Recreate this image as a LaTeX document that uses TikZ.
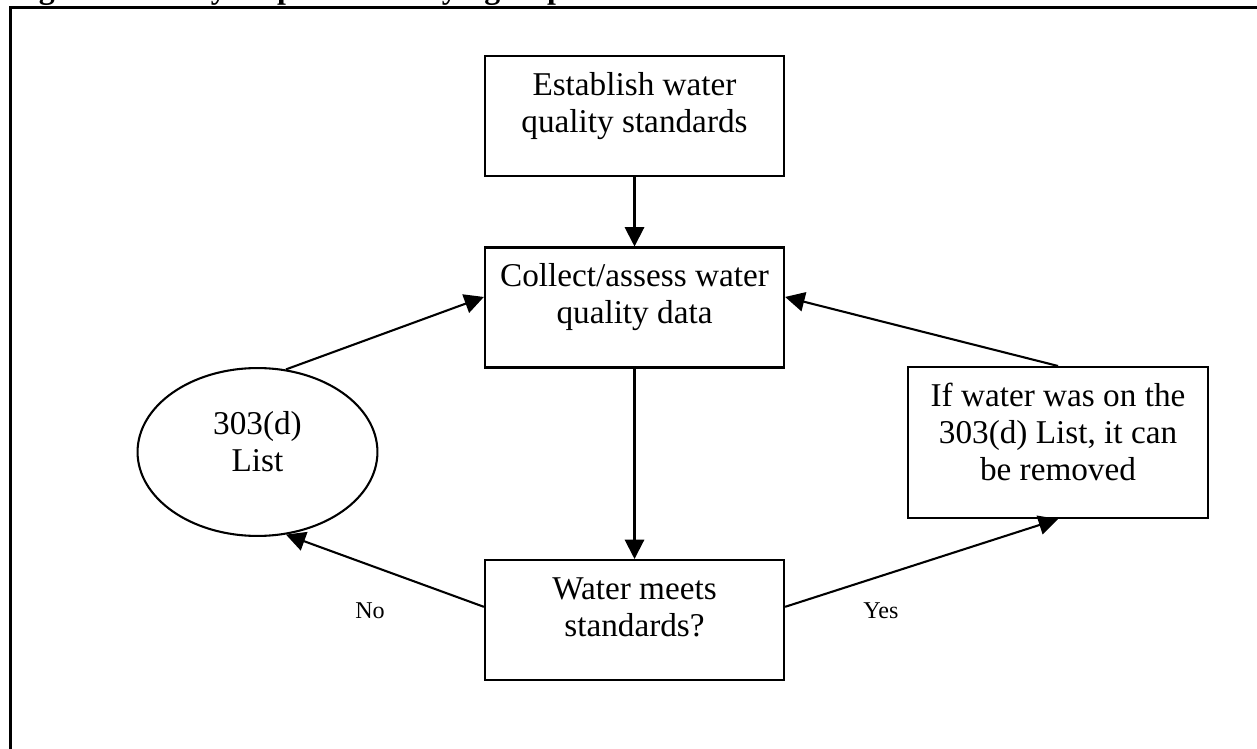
\documentclass[tikz,border=0pt]{standalone}
\usepackage{fontspec}
\setmainfont{Liberation Serif}
\usetikzlibrary{arrows.meta, positioning, shapes.geometric}

\begin{document}
\begin{tikzpicture}[
    x=0.361pt, y=-0.361pt,
    box/.style={draw, line width=0.75pt, minimum width=108pt, minimum height=43.3pt, inner sep=0pt},
    listnode/.style={ellipse, draw, line width=0.75pt, minimum width=86.6pt, minimum height=60.6pt, inner sep=0pt},
    boxtext/.style={align=center, inner sep=0pt, font=\fontsize{12}{13.4}\selectfont},
    edgelabel/.style={inner sep=0pt, font=\fontsize{8.7}{10}\selectfont},
    flow/.style={line width=0.75pt, -{Triangle[length=7pt, width=7pt]}}
]
\useasboundingbox (0,0) rectangle (1257,749);
\clip (0,0) rectangle (1257,749);

% Frame and caption (cut off at the top)
\draw[line width=0.95pt] (10.7,780) |- (1290,7.5);
\node[anchor=base west, inner sep=0pt, font=\fontsize{11.5}{13}\selectfont\bfseries] (caption) at (10,-1.5)
    {Figure 3-1: Key Steps in Identifying Impaired Waters};

% Steps
\node[box] (establish) at (634.5,116) {};
\node[boxtext, below=5pt of establish.north] (establishtext) {\strut Establish water\\quality standards};

\node[box] (collect) at (634.5,307.5) {};
\node[boxtext, below=5pt of collect.north] (collecttext) {\strut Collect/assess water\\quality data};

\node[box] (water) at (634.5,620) {};
\node[boxtext, below=5pt of water.north] (watertext) {\strut Water meets\\standards?};

\node[box, minimum height=54.5pt] (ifbox) at (1058,442.5) {};
\node[boxtext, below=5pt of ifbox.north] (ifboxtext) {\strut If water was on the\\303(d) List, it can\\be removed};

\node[listnode] (list) at (257.5,452) {};
\node[boxtext, anchor=north, yshift=15.9pt] (listtext) at (list.center) {\strut 303(d)\\List};

% Flow
\draw[flow] (establish) -- (collect);
\draw[flow] (collect) -- (water);
\draw[flow] (list.71) -- (collect.176);
\draw[flow] (ifbox.north) -- (collect.4);
\draw[flow] (water.175) -- (list.-71);
\draw[flow] (water.5) -- (ifbox.south);

\node[edgelabel] (nolabel) at (370,611) {No};
\node[edgelabel] (yeslabel) at (881,611) {Yes};

\end{tikzpicture}
\end{document}
